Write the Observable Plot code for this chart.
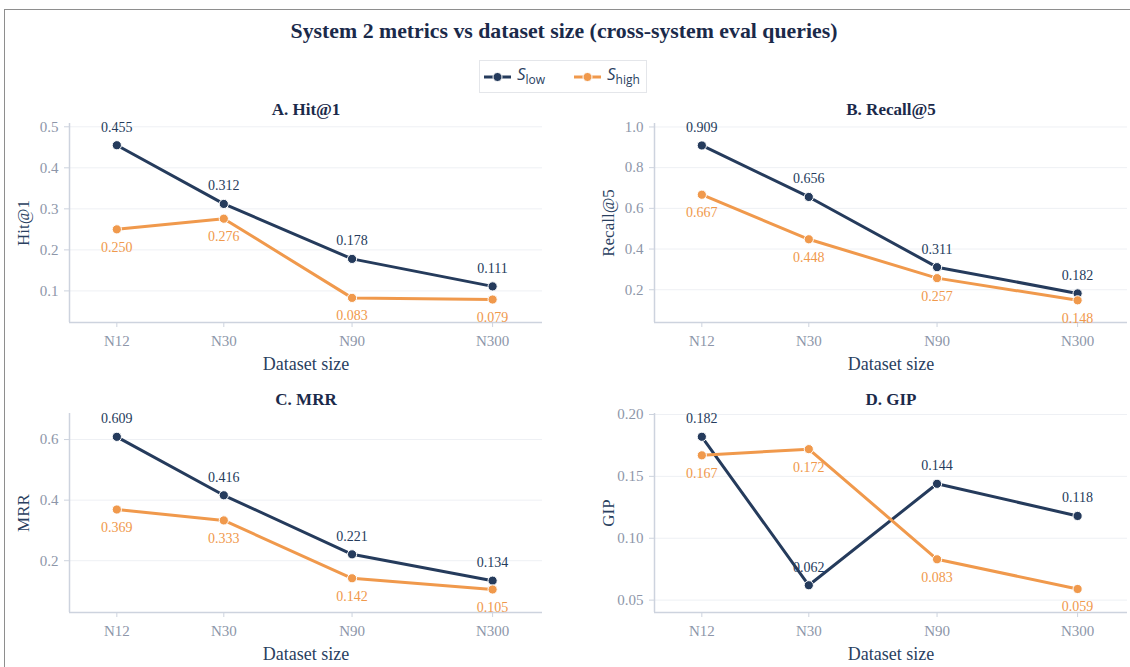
<!DOCTYPE html>
<html>
<head>
<meta charset="utf-8">
<script src="https://cdn.jsdelivr.net/npm/d3@7"></script>
<script src="https://cdn.jsdelivr.net/npm/@observablehq/plot@0.6"></script>
<style>
  html, body { margin: 0; padding: 0; background: #ffffff; overflow: hidden; }
  #root { position: relative; width: 1130px; height: 667px; overflow: hidden; }
  #border { position: absolute; left: 4px; top: 9px; width: 1300px; height: 800px; border: 1.5px solid #8e8e8e; }
  #title { position: absolute; left: 0; top: 17px; width: 1128px; text-align: center;
           font: bold 21.8px "Liberation Serif", serif; color: #1b2a4a; line-height: 28px; }
  #legend { position: absolute; left: 479px; top: 60px; width: 166px; height: 31px;
            border: 1px solid #e4e6ea; background: #fff; font-family: "Open Sans", sans-serif; color: #2a3f5f; }
  .lg-item { position: absolute; top: 0; height: 31px; display: flex; align-items: center; }
  .lg-item svg { display: block; }
  .lg-text { margin-left: 6px; font-size: 17px; line-height: 20px; white-space: nowrap; }
  .lg-text i { font-style: italic; }
  .lg-text sub { font-size: 12px; vertical-align: -4px; }
  .panel { position: absolute; }
  .panel svg text { font-family: "Liberation Serif", "Times New Roman", serif; }
</style>
</head>
<body>
<div id="root">
  <div id="border"></div>
  <div id="title"></div>
  <div id="legend"></div>
  <div class="panel" id="pA" style="left:0px;top:90px"></div>
  <div class="panel" id="pB" style="left:585px;top:90px"></div>
  <div class="panel" id="pC" style="left:0px;top:380px"></div>
  <div class="panel" id="pD" style="left:585px;top:380px"></div>
</div>
<script>
// ---------- data ----------
const chartTitle = "System 2 metrics vs dataset size (cross-system eval queries)";
const sizeLabels = ["N12", "N30", "N90", "N300"];
const sizeN = [12, 30, 90, 300];
const seriesNames = ["low", "high"];

const hit1Low    = [0.455, 0.312, 0.178, 0.111];
const hit1High   = [0.250, 0.276, 0.083, 0.079];
const recall5Low = [0.909, 0.656, 0.311, 0.182];
const recall5High= [0.667, 0.448, 0.257, 0.148];
const mrrLow     = [0.609, 0.416, 0.221, 0.134];
const mrrHigh    = [0.369, 0.333, 0.142, 0.105];
const gipLow     = [0.182, 0.062, 0.144, 0.118];
const gipHigh    = [0.167, 0.172, 0.083, 0.059];

const panelTitles = ["A. Hit@1", "B. Recall@5", "C. MRR", "D. GIP"];
const yLabels = ["Hit@1", "Recall@5", "MRR", "GIP"];
const hit1Ticks = [0.1, 0.2, 0.3, 0.4, 0.5];
const recall5Ticks = [0.2, 0.4, 0.6, 0.8, 1.0];
const mrrTicks = [0.2, 0.4, 0.6];
const gipTicks = [0.05, 0.10, 0.15, 0.20];

// ---------- style ----------
const SERIF = '"Liberation Serif", "Times New Roman", serif';
const NAVY = "#253b5c";
const ORANGE = "#f0994c";
const GRID = "#eef0f4";
const AXIS = "#cdd3de";
const TICK = "#8d96a9";
const TITLE = "#1b2a4a";
const AXT = "#2a3f5f";

document.getElementById("title").textContent = chartTitle;

// legend
const legend = document.getElementById("legend");
function legendItem(left, color, sub) {
  const item = document.createElement("div");
  item.className = "lg-item";
  item.style.left = left + "px";
  item.innerHTML =
    `<svg width="27" height="12"><line x1="0" y1="6" x2="27" y2="6" stroke="${color}" stroke-width="3"/>` +
    `<circle cx="13.5" cy="6" r="4.5" fill="${color}" stroke="#fff" stroke-width="1"/></svg>` +
    `<span class="lg-text"><i>S</i><sub>${sub}</sub></span>`;
  legend.appendChild(item);
}
legendItem(4, NAVY, "low");
legendItem(94, ORANGE, "high");

const xDomain = [8, 460];
const xTickRows = sizeN.map((n, i) => ({n, label: sizeLabels[i]}));

function rowsOf(values, s) {
  return values.map((v, i) => ({n: sizeN[i], label: sizeLabels[i], v, s}));
}

function panel(el, title, yLabel, low, high, yDomain, yTicks, yFmt) {
  const lowRows = rowsOf(low, seriesNames[0]);
  const highRows = rowsOf(high, seriesNames[1]);
  const chart = Plot.plot({
    width: 545, height: 285,
    marginLeft: 69, marginRight: 3, marginTop: 33, marginBottom: 53,
    style: {fontFamily: SERIF, background: "transparent", overflow: "visible"},
    x: {type: "log", domain: xDomain},
    y: {domain: yDomain},
    marks: [
      Plot.gridY(yTicks, {stroke: GRID, strokeOpacity: 1, strokeWidth: 1}),
      Plot.ruleX([xDomain[0]], {stroke: AXIS, strokeWidth: 1.5}),
      Plot.ruleY([yDomain[0]], {stroke: AXIS, strokeWidth: 1.5}),
      Plot.axisY(yTicks, {tickFormat: yFmt, tickSize: 5, tickPadding: 6, fontSize: 15,
                          fontFamily: SERIF, stroke: AXIS, fill: TICK, label: null}),
      Plot.axisX(sizeN, {tickFormat: () => "", tickSize: 5, stroke: AXIS, label: null}),
      Plot.text(xTickRows, {x: "n", text: "label", frameAnchor: "bottom", dy: 18.5,
                            lineAnchor: "middle", fontSize: 15, fontFamily: SERIF, fill: TICK}),
      Plot.line(lowRows, {x: "n", y: "v", stroke: NAVY, strokeWidth: 3}),
      Plot.dot(lowRows, {x: "n", y: "v", r: 4.6, fill: NAVY, stroke: "#fff", strokeWidth: 1}),
      Plot.text(lowRows, {x: "n", y: "v", text: d => d.v.toFixed(3), dy: -18,
                          fill: NAVY, fontSize: 14, fontFamily: SERIF, lineAnchor: "middle"}),
      Plot.line(highRows, {x: "n", y: "v", stroke: ORANGE, strokeWidth: 3}),
      Plot.dot(highRows, {x: "n", y: "v", r: 4.6, fill: ORANGE, stroke: "#fff", strokeWidth: 1}),
      Plot.text(highRows, {x: "n", y: "v", text: d => d.v.toFixed(3), dy: 18,
                           fill: ORANGE, fontSize: 14, fontFamily: SERIF, lineAnchor: "middle"}),
      Plot.text([title], {frameAnchor: "top", dy: -14, textAnchor: "middle", lineAnchor: "middle",
                          fontWeight: "bold", fontSize: 17, fontFamily: SERIF, fill: TITLE}),
      Plot.text([yLabel], {frameAnchor: "left", dx: -46, rotate: -90, textAnchor: "middle",
                           lineAnchor: "middle", fontSize: 17, fontFamily: SERIF, fill: AXT}),
      Plot.text(["Dataset size"], {frameAnchor: "bottom", dy: 42, textAnchor: "middle",
                                   lineAnchor: "middle", fontSize: 18, fontFamily: SERIF, fill: AXT})
    ]
  });
  document.getElementById(el).appendChild(chart);
}

const f1 = d3.format(".1f"), f2 = d3.format(".2f");
panel("pA", panelTitles[0], yLabels[0], hit1Low, hit1High, [0.023, 0.508], hit1Ticks, f1);
panel("pB", panelTitles[1], yLabels[1], recall5Low, recall5High, [0.039, 1.017], recall5Ticks, f1);
panel("pC", panelTitles[2], yLabels[2], mrrLow, mrrHigh, [0.029, 0.686], mrrTicks, f1);
panel("pD", panelTitles[3], yLabels[3], gipLow, gipHigh, [0.040, 0.2008], gipTicks, f2);
</script>
</body>
</html>
